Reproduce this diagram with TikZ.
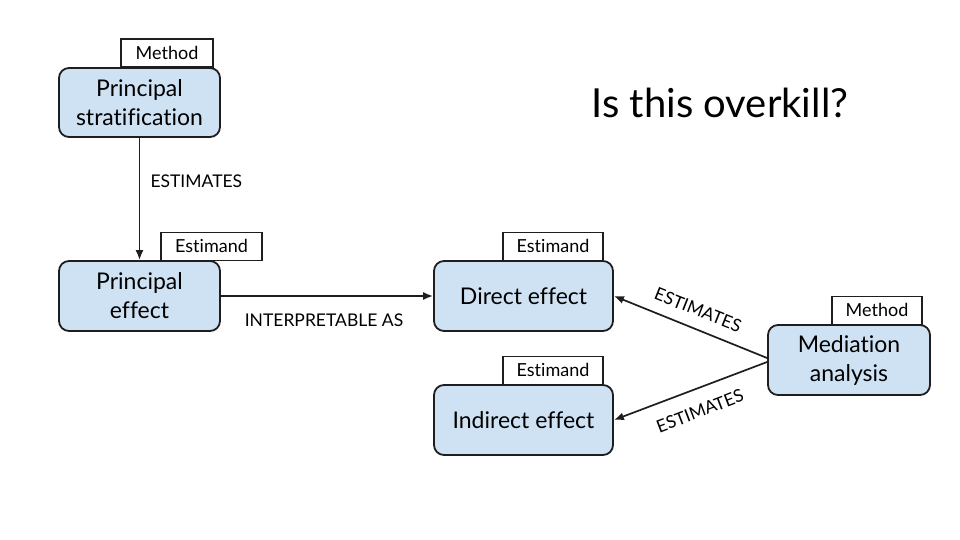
\documentclass[tikz,border=0pt]{standalone}
\usepackage{fontspec}
\setmainfont{Lato}[Ligatures={NoCommon}]
\usetikzlibrary{arrows.meta}
\definecolor{boxblue}{HTML}{CFE2F3}
\definecolor{edge}{HTML}{1E1E1E}
\begin{document}
\begin{tikzpicture}[x=1pt,y=1pt,
  box/.style={draw=edge, rounded corners=10pt, fill=boxblue, line width=1.8pt, align=center, inner sep=0pt, font=\fontsize{23}{29}\selectfont},
  tag/.style={draw=edge, fill=white, line width=1.5pt, inner sep=0pt, anchor=south, minimum height=28pt, font=\fontsize{18}{20}\selectfont},
  conn/.style={draw=edge, line width=1.7pt, -{Latex[length=10pt,width=8pt]}},
  lab/.style={font=\fontsize{17.5}{19}\selectfont}]
\path[use as bounding box] (0,0) rectangle (960,-540);
% boxes
\node[box, minimum width=161pt, minimum height=69pt] (ps) at (139.5,-102.5) {Principal\\stratification};
\node[box, minimum width=161pt, minimum height=70pt] (pe) at (139.5,-296) {Principal\\effect};
\node[box, minimum width=179pt, minimum height=70pt] (de) at (523.5,-296) {Direct effect};
\node[box, minimum width=179pt, minimum height=70pt] (ie) at (523.5,-420) {Indirect effect};
\node[box, minimum width=162pt, minimum height=70pt] (ma) at (849,-360) {Mediation\\analysis};
% tags
\node[tag, minimum width=92pt] (pstag) at (167,-68) {Method};
\node[tag, minimum width=101pt] (petag) at (211.5,-261) {Estimand};
\node[tag, minimum width=100pt] (detag) at (553,-261) {Estimand};
\node[tag, minimum width=100pt] (ietag) at (553,-385) {Estimand};
\node[tag, minimum width=90pt] (matag) at (877,-325) {Method};
% connectors
\draw[conn] (ps.south) -- (pe.north);
\draw[conn] (pe.east) -- (de.west);
\draw[conn] ([yshift=2pt]ma.west) -- (de.east);
\draw[conn] ([yshift=-2pt]ma.west) -- (ie.east);
% labels
\node[lab, anchor=west] (l1) at (147,-181) {ESTIMATES};
\node[lab] (l2) at (324,-320) {INTERPRETABLE AS};
\node[lab, rotate=-21.6] (l3) at (698,-310) {ESTIMATES};
\node[lab, rotate=21] (l4) at (700,-411) {ESTIMATES};
\node[font=\fontsize{40}{44}\selectfont] (title) at (720,-103) {Is this overkill?};
\end{tikzpicture}
\end{document}
